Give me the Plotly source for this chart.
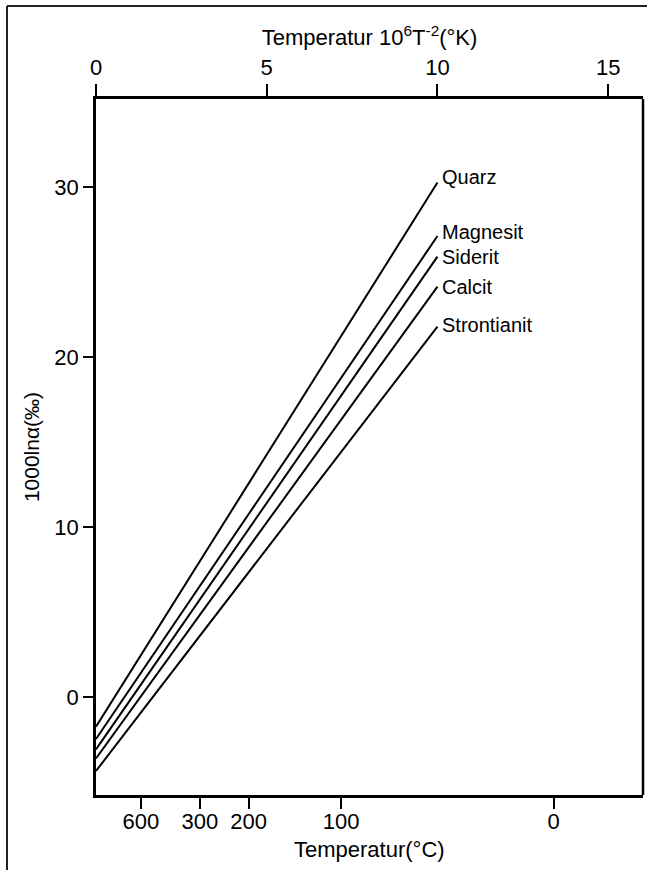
import plotly.graph_objects as go

# Oxygen isotope fractionation lines (1000 ln alpha vs 10^6/T^2)
minerals = ["Quarz", "Magnesit", "Siderit", "Calcit", "Strontianit"]
x_start = 0.0
x_end = 10.0
y_start = [-1.72, -2.44, -3.05, -3.58, -4.32]
y_end = [30.25, 27.11, 25.9, 24.14, 21.79]
label_dy = [0.3, 0.25, 0.0, 0.0, 0.1]

# Axis ticks
top_ticks = [0, 5, 10, 15]
celsius_ticks = [600, 300, 200, 100, 0]
y_ticks = [0, 10, 20, 30]

x_range = [0, 16.02]
y_range = [-5.73, 35.16]

font_family = "Liberation Sans, Arial, sans-serif"

fig = go.Figure()

for name, y0, y1, dy in zip(minerals, y_start, y_end, label_dy):
    fig.add_trace(go.Scatter(
        x=[x_start, x_end], y=[y0, y1], mode="lines",
        line=dict(color="black", width=2), showlegend=False, hoverinfo="skip",
    ))
    fig.add_annotation(
        x=x_end, y=y1 + dy, text=name, showarrow=False,
        xanchor="left", yanchor="middle", xshift=3,
        font=dict(family=font_family, size=20, color="black"),
    )

# Dummy trace to activate the top axis
fig.add_trace(go.Scatter(x=[0], y=[0], xaxis="x2", mode="markers",
                         marker=dict(opacity=0), showlegend=False, hoverinfo="skip"))

# Bottom axis positions: 10^6 / T^2 with T in Kelvin
celsius_pos = [1e6 / (t + 273.15) ** 2 for t in celsius_ticks]

fig.update_layout(
    width=647, height=870,
    margin=dict(l=96, r=4, t=99, b=75),
    paper_bgcolor="white", plot_bgcolor="white",
    font=dict(family=font_family, size=22, color="black"),
    xaxis=dict(
        range=x_range, tickmode="array", tickvals=celsius_pos,
        ticktext=[str(t) for t in celsius_ticks],
        ticks="outside", ticklen=11, tickwidth=2, tickcolor="black",
        ticklabelstandoff=-6,
        showgrid=False, zeroline=False, showline=True, linecolor="black", linewidth=2.5,
        tickfont=dict(size=22),
    ),
    xaxis2=dict(
        range=x_range, overlaying="x", side="top", tickmode="array",
        tickvals=top_ticks, ticktext=[str(t) for t in top_ticks],
        ticks="outside", ticklen=12, tickwidth=2, tickcolor="black",
        showgrid=False, zeroline=False, showline=True, linecolor="black", linewidth=2.5,
        title=dict(text="Temperatur 10<sup>6</sup>T<sup>-2</sup>(°K)", standoff=4, font=dict(size=22)),
        tickfont=dict(size=22),
    ),
    yaxis=dict(
        range=y_range, tickmode="array", tickvals=y_ticks,
        ticktext=[str(t) for t in y_ticks],
        ticks="outside", ticklen=10, tickwidth=2, tickcolor="black",
        showgrid=False, zeroline=False, showline=True, linecolor="black", linewidth=2.5,
        mirror=False,
        title=dict(text="1000lnα(‰)", standoff=10, font=dict(size=21)),
        tickfont=dict(size=22),
    ),
)

# Bottom axis title, placed just under the tick labels
fig.add_annotation(
    x=0.5, y=-0.079, xref="paper", yref="paper", text="Temperatur(°C)",
    showarrow=False, xanchor="center", yanchor="middle",
    font=dict(family=font_family, size=22, color="black"),
)

# Right edge of the plot box
fig.add_shape(type="line", xref="paper", yref="paper", x0=1, x1=1, y0=0, y1=1,
              line=dict(color="black", width=2.5))

# Outer page frame (left and top edges)
fig.add_shape(type="line", xref="paper", yref="paper", x0=-0.1627, x1=-0.1627,
              y0=-0.11, y1=1.1336, line=dict(color="#222", width=2))
fig.add_shape(type="line", xref="paper", yref="paper", x0=-0.1627, x1=1.01,
              y0=1.1336, y1=1.1336, line=dict(color="#222", width=2))

fig.write_html("out.html")
